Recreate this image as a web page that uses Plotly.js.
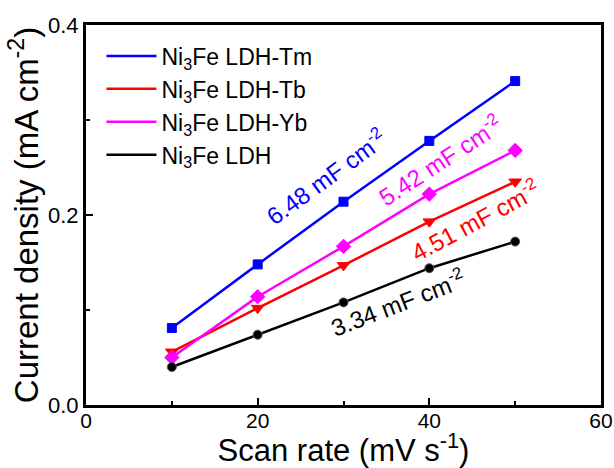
<!DOCTYPE html>
<html>
<head>
<meta charset="utf-8">
<script src="https://cdn.plot.ly/plotly-3.0.1.min.js"></script>
<style>html,body{margin:0;padding:0;background:#fff}#chart{width:614px;height:468px}</style>
</head>
<body>
<div id="chart"></div>
<script>
const scanRate = [10, 20, 30, 40, 50];
const seriesNames = ["Ni<sub>3</sub>Fe LDH-Tm", "Ni<sub>3</sub>Fe LDH-Tb", "Ni<sub>3</sub>Fe LDH-Yb", "Ni<sub>3</sub>Fe LDH"];
const tmValues = [0.081, 0.148, 0.214, 0.278, 0.341];
const tbValues = [0.056, 0.102, 0.147, 0.193, 0.235];
const ybValues = [0.050, 0.114, 0.167, 0.222, 0.268];
const ldhValues = [0.040, 0.074, 0.108, 0.144, 0.172];
const capLabels = ["6.48 mF cm<sup>-2</sup>", "4.51 mF cm<sup>-2</sup>", "5.42 mF cm<sup>-2</sup>", "3.34 mF cm<sup>-2</sup>"];
const xTicks = [0, 20, 40, 60];
const yTicks = [0.0, 0.2, 0.4];
const yTickText = ["0.0", "0.2", "0.4"];

const colors = ["#0000ff", "#ff0000", "#ff00ff", "#000000"];
const symbols = ["square", "triangle-down", "diamond", "circle"];
const msizes = [9, 11, 11, 9];
const allValues = [tmValues, tbValues, ybValues, ldhValues];

const font = "Liberation Sans, Arial, sans-serif";
const traces = [];
allValues.forEach((vals, i) => {
  traces.push({
    x: scanRate, y: vals, mode: "lines", name: seriesNames[i],
    line: {color: colors[i], width: 2.5}, showlegend: true
  });
});
allValues.forEach((vals, i) => {
  traces.push({
    x: scanRate, y: vals, mode: "markers", showlegend: false,
    marker: {color: colors[i], symbol: symbols[i], size: msizes[i],
             line: {color: i === 3 ? "#555" : colors[i], width: 1}},
    hoverinfo: "skip"
  });
});

// annotation positions (data coords) and angles
const annX = [28.0, 45.3, 41.2, 36.4];
const annY = [0.241, 0.195, 0.258, 0.108];
const annAng = [-36, -28, -33, -21];
const annotations = capLabels.map((t, i) => ({
  text: t, x: annX[i], y: annY[i], xref: "x", yref: "y",
  showarrow: false, textangle: annAng[i],
  font: {family: font, size: 24, color: colors[i]}
}));

const axisCommon = {
  showline: true, linecolor: "#000", linewidth: 3, mirror: true,
  ticks: "inside", ticklen: 7, tickwidth: 2, tickcolor: "#000",
  showgrid: false, zeroline: false, ticklabeloverflow: "allow",
  tickfont: {family: font, size: 22, color: "#000"}
};

const layout = {
  width: 614, height: 468,
  margin: {l: 86, r: 13, t: 25, b: 63},
  paper_bgcolor: "#fff", plot_bgcolor: "#fff",
  showlegend: true,
  legend: {x: 0.03, y: 0.975, xanchor: "left", yanchor: "top",
           font: {family: font, size: 23, color: "#000"},
           bgcolor: "rgba(0,0,0,0)", itemwidth: 50, tracegroupgap: 0},
  xaxis: Object.assign({}, axisCommon, {
    range: [0, 60], tickvals: xTicks, ticktext: xTicks.map(String),
    ticklabelstandoff: -5,
    tickfont: {family: font, size: 21, color: "#000"},
    minor: {ticks: "inside", ticklen: 4, tickwidth: 2, tickcolor: "#000", dtick: 10, showgrid: false},
    title: {text: "Scan rate (mV s<sup>-1</sup>)", font: {family: font, size: 31, color: "#000"}, standoff: 5}
  }),
  yaxis: Object.assign({}, axisCommon, {
    range: [0, 0.4], tickvals: yTicks, ticktext: yTickText,
    minor: {ticks: "inside", ticklen: 4, tickwidth: 2, tickcolor: "#000", dtick: 0.1, showgrid: false},
    title: {text: "Current density (mA cm<sup>-2</sup>)", font: {family: font, size: 33, color: "#000"}, standoff: 0}
  }),
  annotations: annotations
};

Plotly.newPlot("chart", traces, layout, {displayModeBar: false, staticPlot: true});
</script>
</body>
</html>
